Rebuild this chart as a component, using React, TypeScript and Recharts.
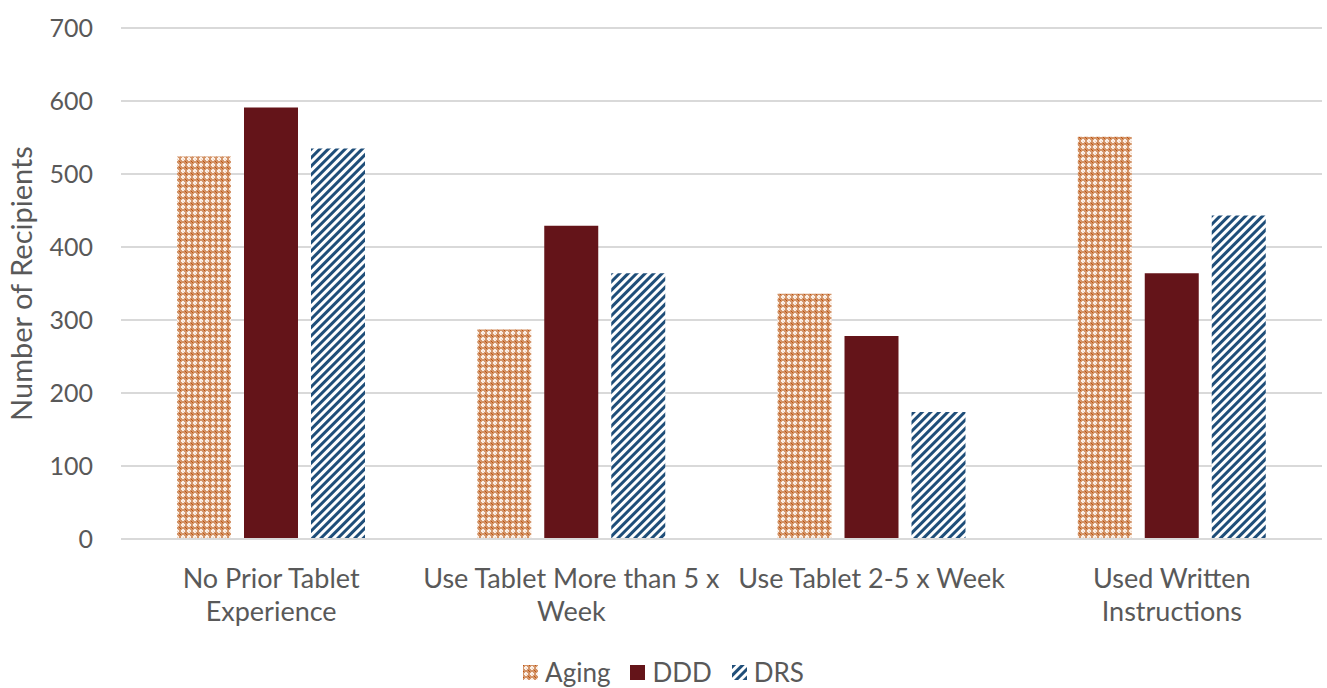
import { BarChart, Bar, XAxis, YAxis, CartesianGrid, Legend } from "recharts";

const categories = [
  "No Prior Tablet Experience",
  "Use Tablet More than 5 x Week",
  "Use Tablet 2-5 x Week",
  "Used Written Instructions",
];
const tickLines = [
  ["No Prior Tablet", "Experience"],
  ["Use Tablet More than 5 x", "Week"],
  ["Use Tablet 2-5 x Week"],
  ["Used Written", "Instructions"],
];
const aging = [524, 287, 336, 551];
const ddd = [591, 429, 278, 364];
const drs = [535, 364, 174, 443];
const yTicks = [0, 100, 200, 300, 400, 500, 600, 700];

const data = categories.map((name, i) => ({
  name,
  Aging: aging[i],
  DDD: ddd[i],
  DRS: drs[i],
}));

const FONT = "Lato, 'Noto Sans', sans-serif";
const TEXT = "#595959";

const CatTick = (props: any) => {
  const { x, y, payload } = props;
  const lines = tickLines[categories.indexOf(payload.value)] || [payload.value];
  return (
    <text x={x} y={y} textAnchor="middle" fill={TEXT} fontSize={27} fontFamily={FONT}>
      {lines.map((l, i) => (
        <tspan key={i} x={x} dy={i === 0 ? 49 : 33}>
          {l}
        </tspan>
      ))}
    </text>
  );
};

const legendItems = [
  { name: "Aging", fill: "url(#agingPat)" },
  { name: "DDD", fill: "#641419" },
  { name: "DRS", fill: "url(#drsPat)" },
];

const LegendContent = () => (
  <div
    style={{
      width: 1327,
      height: 32,
      display: "flex",
      justifyContent: "center",
      alignItems: "center",
      fontFamily: FONT,
      fontSize: 26,
      lineHeight: "30px",
      color: TEXT,
    }}
  >
    {legendItems.map((it) => (
      <div key={it.name} style={{ display: "flex", alignItems: "center", margin: "0 10px" }}>
        <svg width={15} height={15} style={{ marginRight: 7 }}>
          <rect width={15} height={15} fill={it.fill} />
        </svg>
        <span>{it.name}</span>
      </div>
    ))}
  </div>
);

export default function App() {
  return (
    <div style={{ position: "absolute", left: 0, top: 0, background: "#fff" }}>
      <BarChart
        width={1327}
        height={688}
        data={data}
        margin={{ top: 28, right: 5, left: 0, bottom: 0 }}
        barSize={54}
        barGap={13}
      >
        <defs>
          <pattern id="agingPat" width={6} height={6} patternUnits="userSpaceOnUse">
            <rect width={6} height={6} fill="#D39468" />
            <rect x={2} y={1} width={2} height={4} fill="#FBEFE6" />
            <rect x={1} y={2} width={4} height={2} fill="#FBEFE6" />
            <rect x={0} y={0} width={1} height={1} fill="#C0530E" />
            <rect x={3} y={3} width={0.8} height={0.8} fill="#E8B898" />
            <rect x={5} y={5} width={1} height={1} fill="#C0530E" />
          </pattern>
          <pattern
            id="drsPat"
            width={6}
            height={6}
            patternUnits="userSpaceOnUse"
            patternTransform="rotate(45)"
          >
            <rect width={6} height={6} fill="#FFFFFF" />
            <rect width={3} height={6} fill="#1F4E79" />
          </pattern>
        </defs>
        <CartesianGrid vertical={false} stroke="#D9D9D9" strokeWidth={2} />
        <XAxis
          dataKey="name"
          interval={0}
          tickLine={false}
          tickSize={0}
          tickMargin={0}
          axisLine={{ stroke: "#D9D9D9", strokeWidth: 2 }}
          tick={<CatTick />}
          height={117}
        />
        <YAxis
          domain={[0, 700]}
          ticks={yTicks}
          axisLine={false}
          tickLine={false}
          tickSize={0}
          tickMargin={28}
          width={121}
          tick={{ fill: TEXT, fontSize: 25, fontFamily: FONT }}
          label={{
            value: "Number of Recipients",
            angle: -90,
            position: "insideLeft",
            offset: 5,
            dx: 17,
            style: { textAnchor: "middle", fill: TEXT, fontSize: 29, fontFamily: FONT },
          }}
        />
        <Legend verticalAlign="bottom" height={32} content={<LegendContent />} />
        <Bar dataKey="Aging" fill="url(#agingPat)" isAnimationActive={false} />
        <Bar dataKey="DDD" fill="#641419" isAnimationActive={false} />
        <Bar dataKey="DRS" fill="url(#drsPat)" isAnimationActive={false} />
      </BarChart>
    </div>
  );
}
